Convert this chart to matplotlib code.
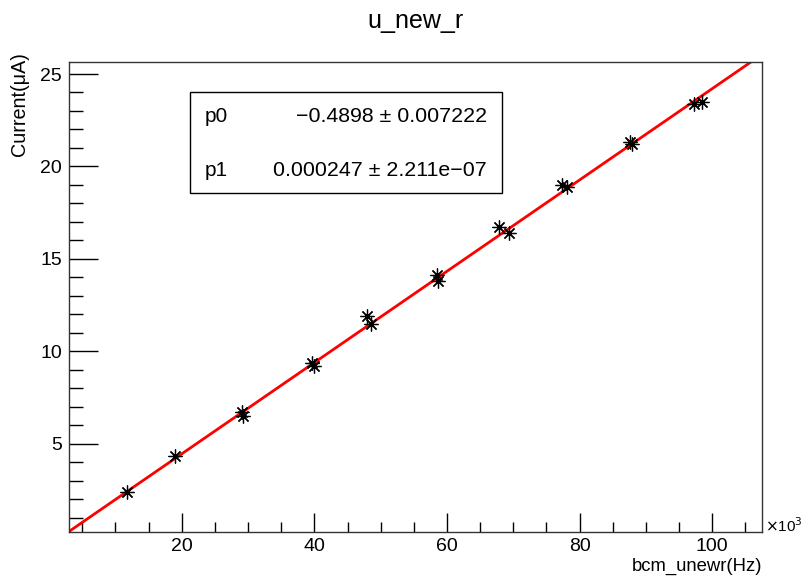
import numpy as np
import matplotlib
matplotlib.use("Agg")
import matplotlib.pyplot as plt
from matplotlib.ticker import MultipleLocator

plt.rcParams['font.family'] = ['Liberation Sans', 'DejaVu Sans']

# data (x in Hz, y in uA)
rate_hz = [11700, 19000, 29100, 29300, 39700, 40000, 47900, 48500,
           58500, 58600, 67900, 69400, 77400, 78100, 87600, 87900,
           97200, 98400]
current = [2.40, 4.32, 6.70, 6.52, 9.37, 9.20, 11.91, 11.47,
           14.12, 13.82, 16.72, 16.42, 18.99, 18.90, 21.32, 21.20,
           23.39, 23.51]

# fit result
p0, p0_err = -0.4898, 0.007222
p1, p1_err = 0.000247, 2.211e-07

x_min, x_max = 3.0, 107.5      # x10^3 Hz
y_min, y_max = 0.25, 25.65

fig = plt.figure(figsize=(8.05, 5.8), dpi=100)
ax = fig.add_axes([69/805, 1-531.5/580, (762-69)/805, (531.5-62)/580])

xk = np.array(rate_hz) / 1e3
ax.plot(xk, current, linestyle='none', marker=(8, 2, 0), color='black',
        markersize=10, markeredgewidth=0.9, zorder=3)

xf = np.linspace(x_min, x_max, 200)
ax.plot(xf, p0 + p1 * xf * 1e3, color='#ff0000', lw=2, zorder=2)

ax.set_xlim(x_min, x_max)
ax.set_ylim(y_min, y_max)

ax.xaxis.set_major_locator(MultipleLocator(20))
ax.xaxis.set_minor_locator(MultipleLocator(5))
ax.yaxis.set_major_locator(MultipleLocator(5))
ax.yaxis.set_minor_locator(MultipleLocator(1))
ax.tick_params(axis='both', which='both', direction='in', labelsize=14,
               top=False, right=False, width=1)
ax.tick_params(axis='x', which='major', length=14, pad=5)
ax.tick_params(axis='x', which='minor', length=7)
ax.tick_params(axis='y', which='major', length=21, pad=5)
ax.tick_params(axis='y', which='minor', length=10)
for s in ax.spines.values():
    s.set_linewidth(1)
    s.set_color('#333333')

fig.text(415/805, 1-21/580, 'u_new_r', ha='center', va='center', fontsize=18)
fig.text(20/805, 1-52/580, 'Current(\u03bcA)', rotation=90, ha='center',
         va='top', fontsize=14.2)
fig.text(762/805, 1-566/580, 'bcm_unewr(Hz)', ha='right', va='center',
         fontsize=13.3)
fig.text(765/805, 1-526/580, r'$\times$10$^3$', ha='left', va='center',
         fontsize=11)

# fit parameter box
box = plt.Rectangle((190/805, 1-193/580), (502-190)/805, (193-92)/580,
                    transform=fig.transFigure, fill=True, facecolor='white',
                    edgecolor='black', lw=1, zorder=5)
fig.patches.append(box)
fig.text(205/805, 1-117/580, 'p0', ha='left', va='center', fontsize=15, zorder=6)
fig.text(487/805, 1-117/580, '\u22120.4898 \u00b1 0.007222', ha='right',
         va='center', fontsize=15.4, zorder=6)
fig.text(205/805, 1-170/580, 'p1', ha='left', va='center', fontsize=15, zorder=6)
fig.text(487/805, 1-170/580, '0.000247 \u00b1 2.211e\u221207', ha='right',
         va='center', fontsize=15.4, zorder=6)

fig.savefig('out.png', dpi=100)
